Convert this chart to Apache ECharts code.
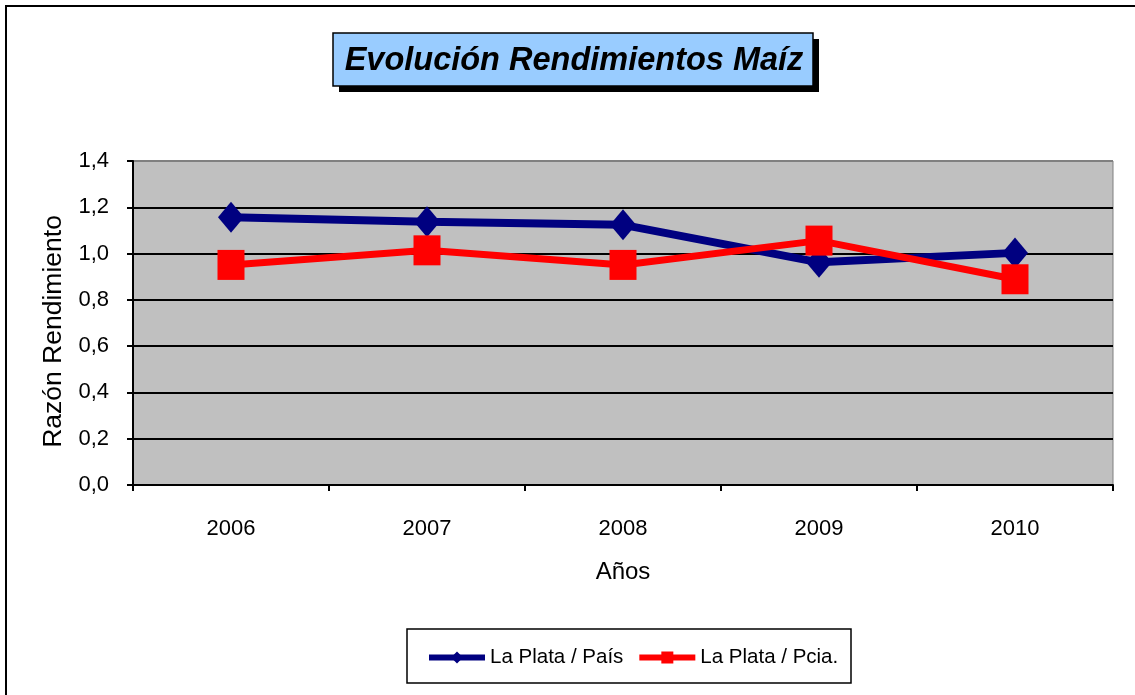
<!DOCTYPE html>
<html>
<head>
<meta charset="utf-8">
<script src="https://cdn.jsdelivr.net/npm/echarts@6/dist/echarts.min.js"></script>
<style>
  html, body { margin: 0; padding: 0; background: #fff; }
  #main { width: 1135px; height: 695px; }
</style>
</head>
<body>
<div id="main"></div>
<script>
// datos del gráfico
const years = ["2006", "2007", "2008", "2009", "2010"];
const laPlataPais = [1.157, 1.138, 1.124, 0.962, 1.003];
const laPlataPcia = [0.951, 1.014, 0.951, 1.056, 0.889];
const yTicks = { min: 0, max: 1.4, interval: 0.2 };

const FONT = "Liberation Sans, Arial, sans-serif";
const chart = echarts.init(document.getElementById("main"));

const option = {
  backgroundColor: "#ffffff",
  animation: false,
  textStyle: { fontFamily: FONT },
  // marco, título y caja de la leyenda
  graphic: [
    {
      type: "rect",
      shape: { x: 6, y: 6, width: 1140, height: 700 },
      style: { fill: "none", stroke: "#000", lineWidth: 2 },
      z: 0,
    },
    {
      type: "rect",
      shape: { x: 339, y: 39, width: 480, height: 53 },
      style: { fill: "#000" },
      z: 10,
    },
    {
      type: "rect",
      shape: { x: 333, y: 33, width: 480, height: 53 },
      style: { fill: "#99CCFF", stroke: "#000", lineWidth: 1.5 },
      z: 11,
    },
    {
      type: "text",
      x: 574,
      y: 61,
      style: {
        text: "Evolución Rendimientos Maíz",
        fill: "#000",
        font: "italic bold 32.5px " + FONT,
        textAlign: "center",
        textVerticalAlign: "middle",
      },
      z: 12,
    },
    {
      type: "rect",
      shape: { x: 407, y: 629, width: 444, height: 54 },
      style: { fill: "#fff", stroke: "#000", lineWidth: 1.5 },
      z: 1,
    },
  ],
  legend: {
    left: 426,
    top: 647,
    padding: 0,
    itemWidth: 56,
    itemHeight: 15,
    itemGap: 13,
    lineStyle: { width: 6 },
    textStyle: { color: "#000", fontSize: 20.5, fontFamily: FONT },
    data: ["La Plata / País", "La Plata / Pcia."],
    z: 5,
  },
  grid: {
    left: 133,
    right: 22,
    top: 161,
    bottom: 210,
    show: true,
    backgroundColor: "#C0C0C0",
    borderColor: "#808080",
    borderWidth: 1,
  },
  xAxis: {
    type: "category",
    data: years,
    boundaryGap: true,
    name: "Años",
    nameLocation: "middle",
    nameGap: 75,
    nameTextStyle: { color: "#000", fontSize: 24, fontFamily: FONT },
    axisLine: { show: true, lineStyle: { color: "#000", width: 2 } },
    axisTick: { show: true, alignWithLabel: false, length: 6, lineStyle: { color: "#000", width: 2 } },
    axisLabel: { color: "#000", fontSize: 22, margin: 33, fontFamily: FONT },
    splitLine: { show: false },
  },
  yAxis: {
    type: "value",
    min: yTicks.min,
    max: yTicks.max,
    interval: yTicks.interval,
    name: "Razón Rendimiento",
    nameLocation: "middle",
    nameGap: 62,
    nameTextStyle: { color: "#000", fontSize: 26.5, fontFamily: FONT, padding: [0, 17, 0, 0] },
    axisLine: { show: true, lineStyle: { color: "#000", width: 2 } },
    axisTick: { show: true, length: 6, lineStyle: { color: "#000", width: 2 } },
    axisLabel: {
      color: "#000",
      fontSize: 22,
      margin: 24,
      fontFamily: FONT,
      formatter: (v) => v.toFixed(1).replace(".", ","),
    },
    splitLine: {
      show: true,
      lineStyle: {
        color: ["#000", "#000", "#000", "#000", "#000", "#000", "#000", "#808080"],
        width: 2,
      },
    },
  },
  series: [
    {
      name: "La Plata / País",
      type: "line",
      data: laPlataPais,
      symbol: "diamond",
      symbolSize: [26, 31],
      lineStyle: { color: "#000080", width: 8 },
      itemStyle: { color: "#000080" },
      z: 3,
    },
    {
      name: "La Plata / Pcia.",
      type: "line",
      data: laPlataPcia,
      symbol: "rect",
      symbolSize: [27, 30],
      lineStyle: { color: "#FF0000", width: 7 },
      itemStyle: { color: "#FF0000" },
      z: 4,
    },
  ],
};

chart.setOption(option);
</script>
</body>
</html>
